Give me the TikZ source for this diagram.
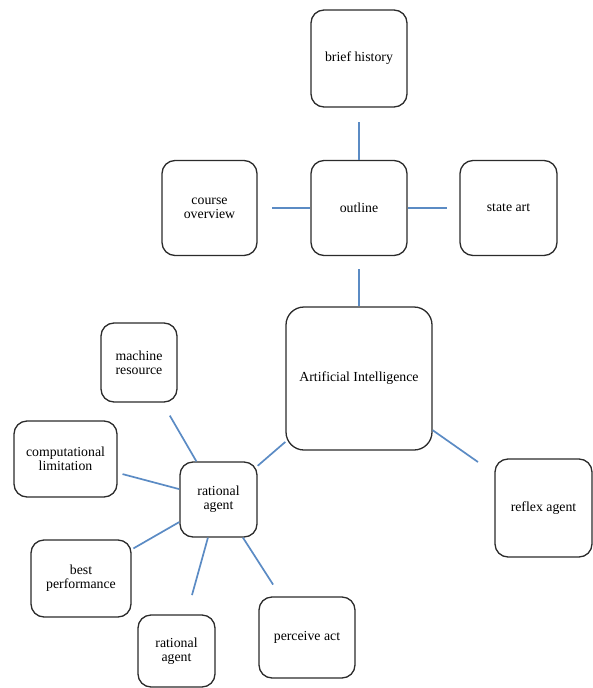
\documentclass[tikz,border=0pt]{standalone}
\usepackage{fontspec}
\setmainfont{Liberation Serif}
\usetikzlibrary{calc}
\definecolor{linkcol}{HTML}{5B8BC4}
\definecolor{edgecol}{HTML}{2B2B2B}

\begin{document}
\begin{tikzpicture}[x=1pt, y=1pt,
    topic/.style={draw=edgecol, line width=1.3pt, rounded corners=13pt, inner sep=0pt,
                  align=center, font=\fontsize{13.8}{13.8}\selectfont, fill=white},
    hub/.style={topic, rounded corners=18pt},
    link/.style={draw=linkcol, line width=1.7pt}
  ]
  \useasboundingbox (0,0) rectangle (593,-688);

  % ---- upper cluster: outline ----
  \node[topic, minimum width=96pt, minimum height=97pt] (brief)   at (359,-58.5)  {brief history};
  \node[topic, minimum width=96pt, minimum height=95pt] (outline) at (359,-208) {outline};
  \node[topic, minimum width=95pt, minimum height=95pt] (course)  at (209.5,-208) {course\\overview};
  \node[topic, minimum width=97pt, minimum height=95pt] (state)   at (508.5,-208) {state art};

  % ---- centre ----
  \node[hub, minimum width=146pt, minimum height=143pt] (ai) at (359,-378.5) {Artificial Intelligence};
  \node[topic, minimum width=97pt, minimum height=98pt] (reflex) at (543.5,-508) {reflex agent};

  % ---- lower cluster: rational agent ----
  \node[topic, minimum width=77pt, minimum height=75pt]  (ragent)   at (218.5,-499.5) {rational\\agent};
  \node[topic, minimum width=76pt, minimum height=79pt]  (machine)  at (139,-362.5)   {machine\\resource};
  \node[topic, minimum width=103pt, minimum height=76pt] (comp)     at (65.5,-459)    {computational\\limitation};
  \node[topic, minimum width=100pt, minimum height=77pt] (best)     at (81,-578.5)    {best\\performance};
  \node[topic, minimum width=77pt, minimum height=72pt]  (ragentb)  at (176.5,-651)   {rational\\agent};
  \node[topic, minimum width=96pt, minimum height=81pt]  (perceive) at (307,-637.5)   {perceive act};

  % ---- connectors (gap left at the far end) ----
  \draw[link, shorten >=14pt] (outline) -- (brief);
  \draw[link, shorten >=14pt] (outline) -- (course);
  \draw[link, shorten >=12pt] (outline) -- (state);
  \draw[link, shorten >=13pt] (ai) -- (outline);
  \draw[link, shorten >=20pt] (ai) -- (reflex);
  \draw[link] (ai) -- (ragent);

  \draw[link, shorten >=15pt] (ragent) -- (machine);
  \draw[link, shorten >=5pt]  (ragent) -- (comp);
  \draw[link, shorten >=2pt]  (ragent) -- (best);
  \draw[link, shorten >=20pt] (ragent) -- (ragentb);
  \draw[link, shorten >=14pt] (ragent) -- (perceive);

\end{tikzpicture}
\end{document}
